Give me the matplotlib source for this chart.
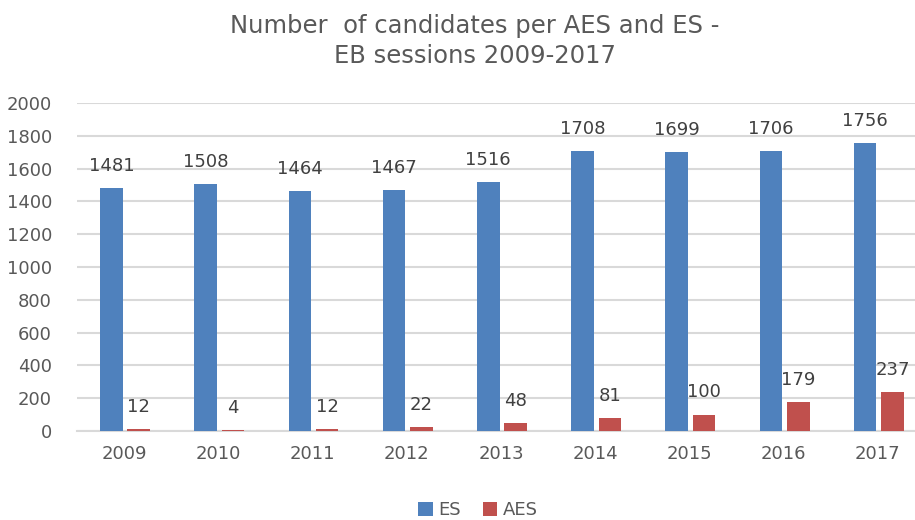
import matplotlib.pyplot as plt
import numpy as np

years = ['2009', '2010', '2011', '2012', '2013', '2014', '2015', '2016', '2017']
es_counts = [1481, 1508, 1464, 1467, 1516, 1708, 1699, 1706, 1756]
aes_counts = [12, 4, 12, 22, 48, 81, 100, 179, 237]

plt.rcParams['font.family'] = ['DejaVu Sans']
grey = '#595959'

fig = plt.figure(figsize=(9.15, 5.2), dpi=100)
# axes run a little past the right edge, like the cropped original
ax = fig.add_axes([77 / 915, 1 - 431 / 520, 848 / 915, 328 / 520])

x = np.arange(len(years))
w = 0.24
ax.bar(x - 0.135, es_counts, w, color='#4f81bd', label='ES', zorder=3)
ax.bar(x + 0.155, aes_counts, w, color='#c0504d', label='AES', zorder=3)

for i in range(len(years)):
    ax.text(x[i] - 0.135, es_counts[i] + 80, str(es_counts[i]), ha='center', va='bottom',
            fontsize=13, color='#404040')
    ax.text(x[i] + 0.155, aes_counts[i] + 80, str(aes_counts[i]), ha='center', va='bottom',
            fontsize=13, color='#404040')

ax.set_xlim(-0.5, len(years) - 0.5)
ax.set_ylim(0, 2000)
ax.set_yticks(range(0, 2001, 200))
ax.set_xticks(x)
ax.set_xticklabels(years)
ax.tick_params(axis='both', length=0, labelsize=13, colors=grey)
ax.tick_params(axis='x', pad=10)
ax.tick_params(axis='y', pad=18)
ax.grid(axis='y', color='#d9d9d9', linewidth=1.5, zorder=0)
for side in ['top', 'right', 'left']:
    ax.spines[side].set_visible(False)
ax.spines['bottom'].set_color('#d9d9d9')
ax.spines['bottom'].set_linewidth(1.5)

fig.text(475 / 915, 1 - 41 / 520, 'Number  of candidates per AES and ES -\nEB sessions 2009-2017',
         ha='center', va='center', fontsize=17.5, color=grey, linespacing=1.3)

fig.legend(loc='center', bbox_to_anchor=(478 / 915, 1 - 510 / 520), ncol=2, frameon=False,
           fontsize=13, labelcolor=grey, handlelength=0.8, handleheight=0.8,
           handletextpad=0.3, columnspacing=1.2)

fig.savefig('out.png', dpi=100)
